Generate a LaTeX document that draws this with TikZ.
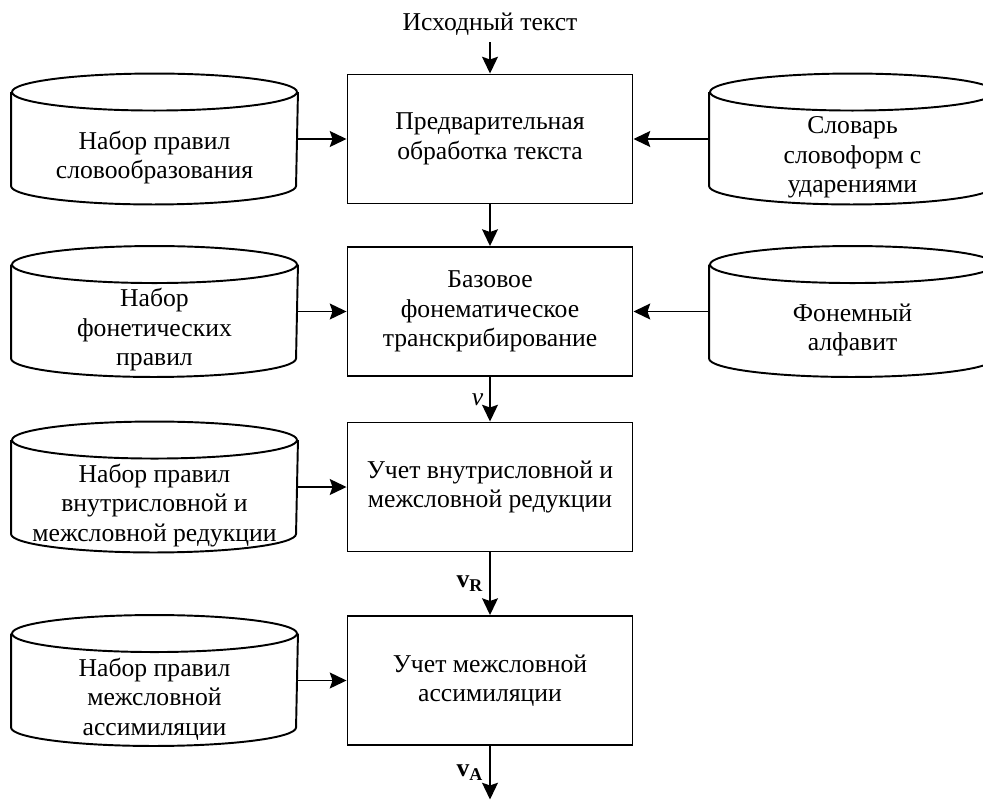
\documentclass[tikz,border=0pt]{standalone}
\usepackage{fontspec}
\setmainfont{Liberation Serif}
\usetikzlibrary{arrows.meta, calc}

\begin{document}
\begin{tikzpicture}[
    block/.style={draw, minimum width=5.7cm, minimum height=2.58cm, align=center, inner sep=2pt},
    store/.style={minimum width=5.7cm, minimum height=1.84cm, align=center, inner sep=0pt},
    every node/.style={font=\fontsize{14.6}{16.8}\selectfont},
    >={Stealth[length=9.5pt, width=9pt, inset=1.5pt]}, line width=1.1pt
]
  \useasboundingbox (0, 0) rectangle (19.66, -16.02);

  % main chain
  \node (src) at (9.8, -0.48) {Исходный текст};
  \node[block] (prep) at (9.8, -2.78) {Предварительная\\обработка текста};
  \node[block] (base) at (9.8, -6.23) {Базовое\\фонематическое\\транскрибирование};
  \node[block] (reduc) at (9.8, -9.74) {Учет внутрисловной и\\межсловной редукции};
  \node[block] (assim) at (9.8, -13.61) {Учет межсловной\\ассимиляции};
  \coordinate (out) at (9.8, -15.99);

  % rule bases (left) and dictionaries (right)
  \node[store] (wordrules) at (3.09, -3.15) {Набор правил\\словообразования};
  \node[store] (phonrules) at (3.09, -6.60) {Набор\\фонетических\\правил};
  \node[store] (redrules) at (3.09, -10.11) {Набор правил\\внутрисловной и\\межсловной редукции};
  \node[store] (assimrules) at (3.09, -13.98) {Набор правил\\межсловной\\ассимиляции};
  \node[store] (lexicon) at (17.05, -3.15) {Словарь\\словоформ с\\ударениями};
  \node[store] (alphabet) at (17.05, -6.60) {Фонемный\\алфавит};

  \foreach \s in {wordrules, phonrules, redrules, assimrules, lexicon, alphabet} {
    \draw ($(\s.north)+(0, 0.37)$) ellipse[x radius=2.85, y radius=0.37];
    \draw ($(\s.north west)+(0, 0.37)$) -- ($(\s.south west)+(0, 0.37)$)
      arc[start angle=180, end angle=360, x radius=2.85, y radius=0.37]
      -- ($(\s.north east)+(0, 0.37)$);
  }

  \draw[->] (src) -- (prep);
  \draw[->] (prep) -- (base);
  \draw[->] (base) -- node[left] {\textit{v}} (reduc);
  \draw[->] (reduc) -- node[left] {\textbf{v\textsubscript{R}}} (assim);
  \draw[->] (assim) -- node[left] {\textbf{v\textsubscript{A}}} (out);

  \draw[->] (prep.west -| wordrules.east) -- (prep.west);
  \draw[->] (base.west -| phonrules.east) -- (base.west);
  \draw[->] (reduc.west -| redrules.east) -- (reduc.west);
  \draw[->] (assim.west -| assimrules.east) -- (assim.west);
  \draw[->] (prep.east -| lexicon.west) -- (prep.east);
  \draw[->] (base.east -| alphabet.west) -- (base.east);
\end{tikzpicture}
\end{document}
